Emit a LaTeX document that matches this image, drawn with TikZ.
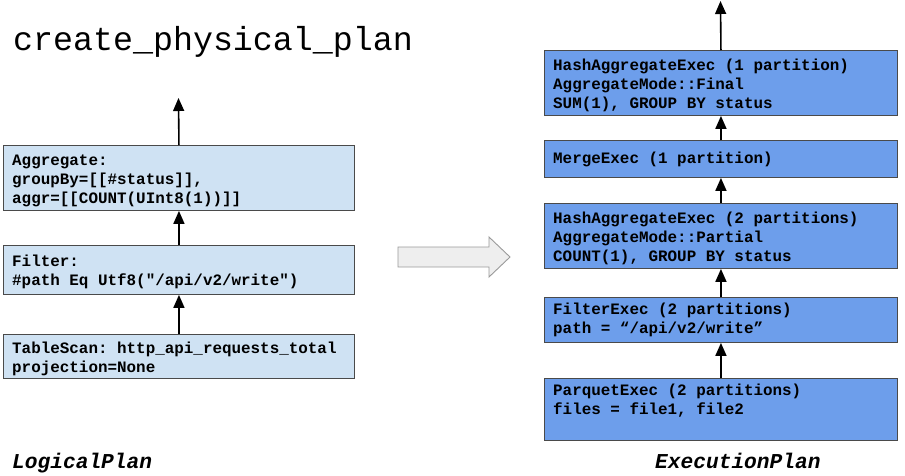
\documentclass[tikz,border=0pt]{standalone}
\usepackage{fontspec}
\setmonofont{Liberation Mono}
\usetikzlibrary{arrows.meta}
\definecolor{lblue}{HTML}{CFE2F3}
\definecolor{dblue}{HTML}{6D9EEB}
\definecolor{edge}{HTML}{4A4A4A}
\definecolor{bigfill}{HTML}{EEEEEE}
\definecolor{bigedge}{HTML}{9A9A9A}
\tikzset{
  lbox/.style={draw=edge, line width=0.9pt, fill=lblue, inner sep=0pt, anchor=north west},
  rbox/.style={draw=edge, line width=0.9pt, fill=dblue, inner sep=0pt, anchor=north west},
  txt/.style={anchor=base west, inner sep=0pt, font=\ttfamily\bfseries\fontsize{15.9}{19}\selectfont},
  flow/.style={line width=1.6pt, -{Triangle[length=13pt,width=11pt]}},
}
\begin{document}
\begin{tikzpicture}[x=1pt,y=-1pt]
\useasboundingbox (0,0) rectangle (905,475);
% title
\node[anchor=base west, inner sep=0pt, font=\ttfamily\fontsize{33.3}{40}\selectfont] (title) at (13,50) {create\_physical\_plan};
% left boxes
\node[lbox, minimum width=351pt, minimum height=65pt] (agg) at (3,145) {};
\node[lbox, minimum width=351pt, minimum height=49pt] (filt) at (3,245) {};
\node[lbox, minimum width=351pt, minimum height=44pt] (ts) at (3,334) {};
\node[txt] (aggt) at (12,165) {\begin{tabular}[t]{@{}l@{}}Aggregate:\\groupBy=[[\#status]],\\aggr=[[COUNT(UInt8(1))]]\end{tabular}};
\node[txt] (filtt) at (12,266) {\begin{tabular}[t]{@{}l@{}}Filter:\\\#path Eq Utf8("/api/v2/write")\end{tabular}};
\node[txt] (tst) at (12,353) {\begin{tabular}[t]{@{}l@{}}TableScan: http\_api\_requests\_total\\projection=None\end{tabular}};
\coordinate (ltop) at (178.5,98);
\draw[flow] (ts.north) -- (filt.south);
\draw[flow] (filt.north) -- (agg.south);
\draw[flow] (agg.north) -- (ltop);
% right boxes
\node[rbox, minimum width=353pt, minimum height=65pt] (ha1) at (544,50) {};
\node[rbox, minimum width=353pt, minimum height=37pt] (mg) at (544,140) {};
\node[rbox, minimum width=353pt, minimum height=65pt] (ha2) at (544,203) {};
\node[rbox, minimum width=353pt, minimum height=45pt] (fe) at (544,297) {};
\node[rbox, minimum width=353pt, minimum height=62pt] (pq) at (544,378) {};
\node[txt] (ha1t) at (553,70) {\begin{tabular}[t]{@{}l@{}}HashAggregateExec (1 partition)\\AggregateMode::Final\\SUM(1), GROUP BY status\end{tabular}};
\node[txt] (mgt) at (553,163) {MergeExec (1 partition)};
\node[txt] (ha2t) at (553,223) {\begin{tabular}[t]{@{}l@{}}HashAggregateExec (2 partitions)\\AggregateMode::Partial\\COUNT(1), GROUP BY status\end{tabular}};
\node[txt] (fet) at (553,314) {\begin{tabular}[t]{@{}l@{}}FilterExec (2 partitions)\\path = “/api/v2/write”\end{tabular}};
\node[txt] (pqt) at (553,395) {\begin{tabular}[t]{@{}l@{}}ParquetExec (2 partitions)\\files = file1, file2\end{tabular}};
\coordinate (rtop) at (720.5,1);
\draw[flow] (pq.north) -- (fe.south);
\draw[flow] (fe.north) -- (ha2.south);
\draw[flow] (ha2.north) -- (mg.south);
\draw[flow] (mg.north) -- (ha1.south);
\draw[flow] (ha1.north) -- (rtop);
% big arrow
\draw[fill=bigfill, draw=bigedge, line width=0.9pt, line join=miter]
  (398,247) -- (489,247) -- (489,237) -- (510,257) -- (489,277) -- (489,267) -- (398,267) -- cycle;
% bottom labels
\node[anchor=base west, inner sep=0pt, font=\ttfamily\bfseries\itshape\fontsize{21.2}{25}\selectfont] (lp) at (12,468) {LogicalPlan};
\node[anchor=base west, inner sep=0pt, font=\ttfamily\bfseries\itshape\fontsize{21.2}{25}\selectfont] (ep) at (655,468) {ExecutionPlan};
\end{tikzpicture}
\end{document}
